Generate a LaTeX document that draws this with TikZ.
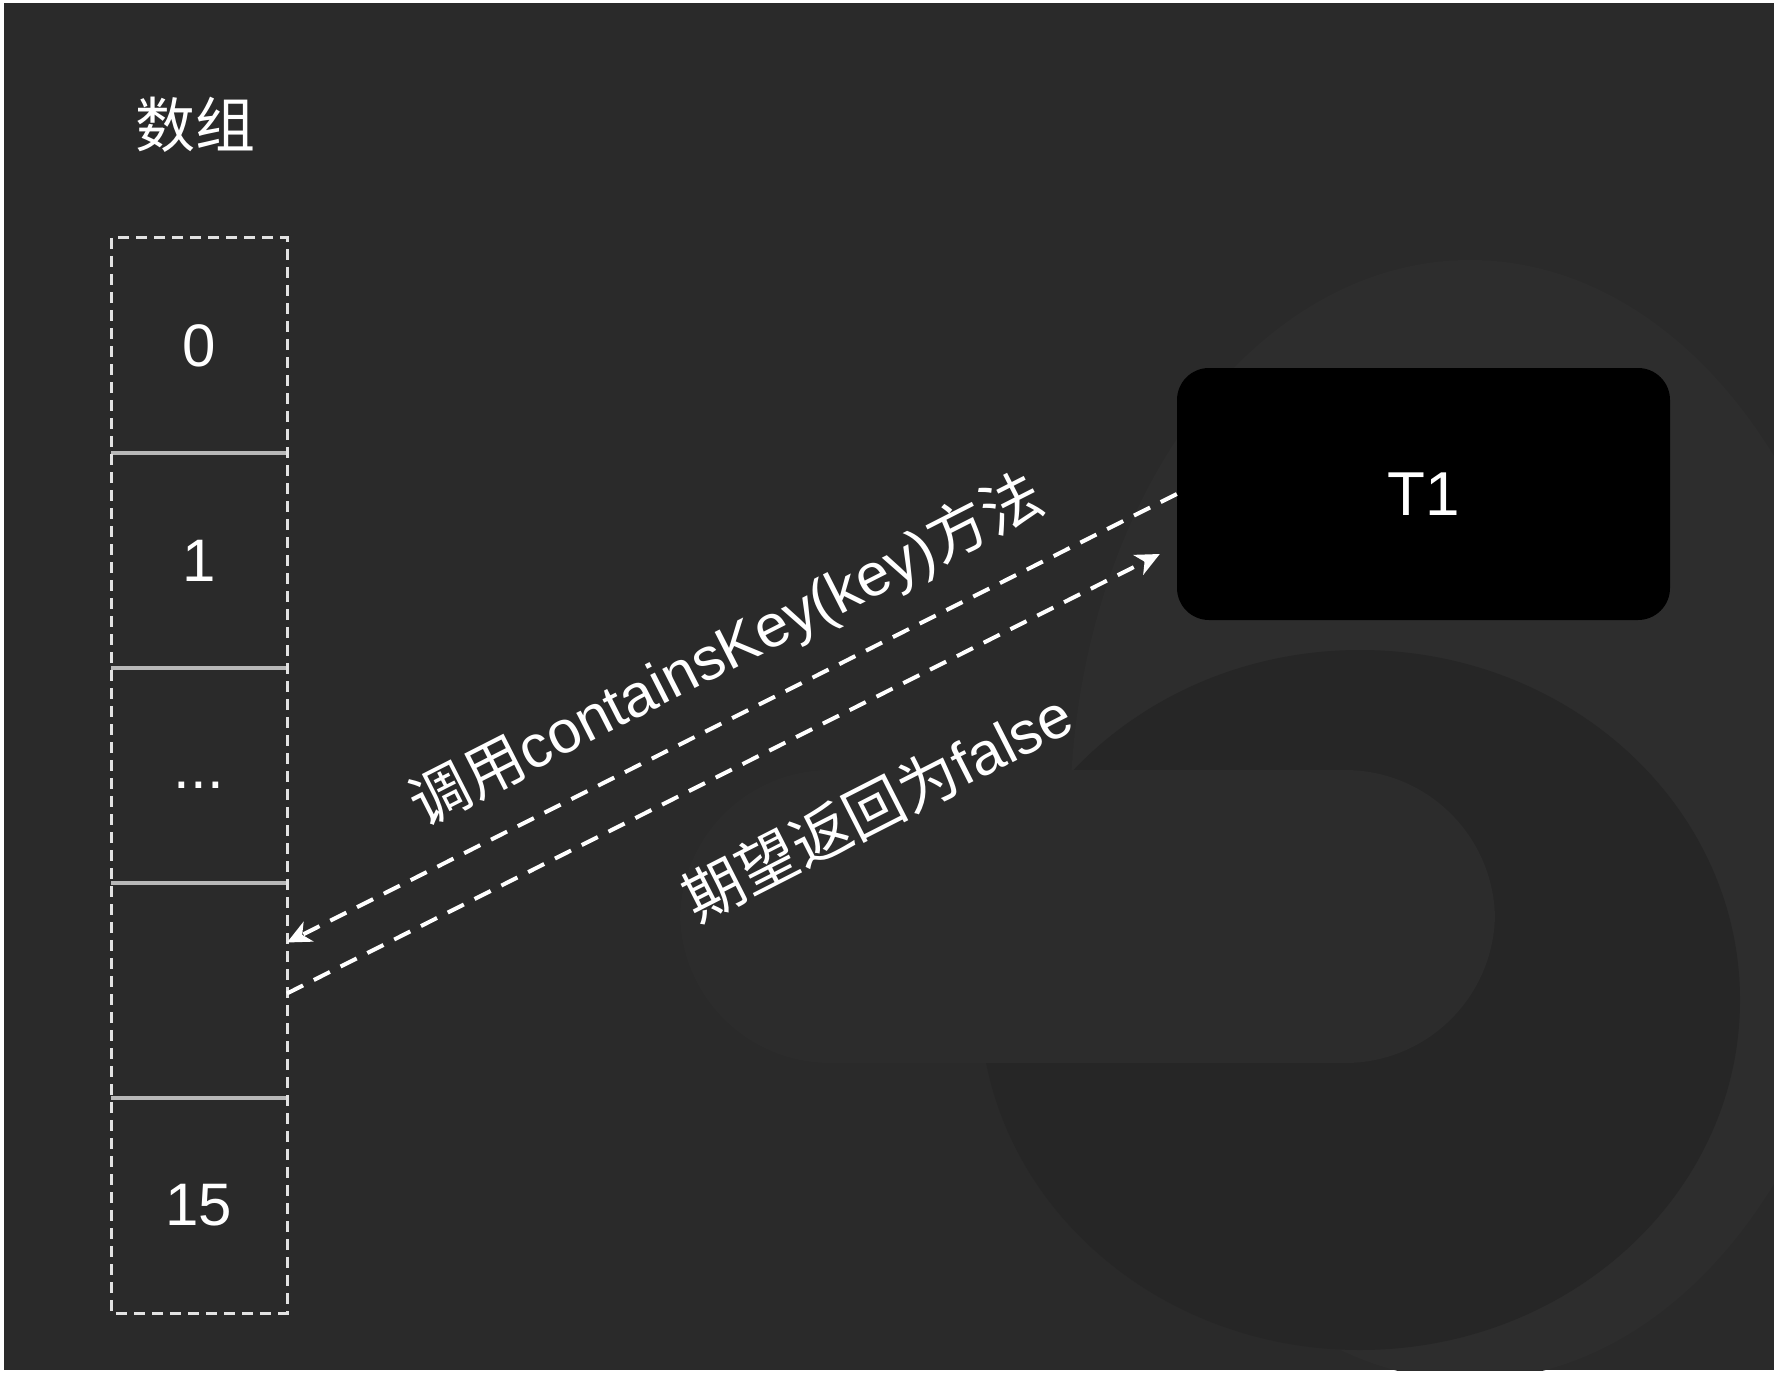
\documentclass[tikz,border=0pt]{standalone}
\usepackage{fontspec}
\setmainfont{Liberation Sans}
\newfontfamily\cjk{Noto Sans CJK SC}
\usetikzlibrary{positioning,arrows.meta}
\definecolor{bgdark}{HTML}{2A2A2A}
\definecolor{bglight}{HTML}{2D2D2D}
\definecolor{bgring}{HTML}{262626}
\definecolor{bgpill}{HTML}{2C2C2C}
\definecolor{sepgray}{HTML}{B8B8B8}
\definecolor{dashgray}{HTML}{E2E2E2}
\tikzset{
  cell/.style={minimum width=176pt, minimum height=215pt, inner sep=0pt, outer sep=0pt, text=white, font=\fontsize{60}{60}\selectfont},
  sepline/.style={draw=sepgray, line width=4pt},
  arrbox/.style={draw=dashgray, line width=3pt, dash pattern=on 11pt off 7pt},
  call/.style={draw=white, line width=4pt, dash pattern=on 18pt off 12pt, -{Stealth[length=24pt,width=22pt,inset=7pt]}},
  lbl/.style={text=white, font=\fontsize{60}{60}\selectfont, rotate=27, inner sep=0pt}
}
\begin{document}
\begin{tikzpicture}[x=1pt,y=-1pt]
  \useasboundingbox (0,0) rectangle (1774,1380);
  \fill[white] (0,0) rectangle (1774,1380);
  \fill[bgdark] (4,3) rectangle (1774,1370);
  \begin{scope}
    \clip (4,3) rectangle (1774,1370);
    \fill[bglight] (1470,820) ellipse [x radius=400, y radius=560];
    \fill[bgring] (1360,1000) ellipse [x radius=380, y radius=350];
    \fill[bgpill, rounded corners=150pt] (680,770) rectangle (1495,1063);
  \end{scope}

  \node[text=white, font=\cjk\fontsize{60}{60}\selectfont] (title) at (195,125) {数组};

  \node[cell] (c0) at (199,345.5) {0};
  \node[cell, below=0pt of c0] (c1) {1};
  \node[cell, below=0pt of c1] (c2) {\raisebox{-26pt}{...}};
  \node[cell, below=0pt of c2] (c3) {};
  \node[cell, below=0pt of c3] (c4) {15};
  \foreach \c in {c0,c1,c2,c3} \draw[sepline] (\c.south west) -- (\c.south east);
  \draw[arrbox] (c0.north west) rectangle (c4.south east);

  \node[fill=black, rounded corners=32pt, minimum width=493pt, minimum height=252pt, text=white, font=\fontsize{62}{62}\selectfont] (t1) at (1423.5,494) {T1};

  \draw[call] (t1.west) -- ([yshift=48pt]c3.east);
  \draw[call] ([yshift=-3pt]c3.east) -- ([xshift=-17pt,yshift=-60pt]t1.west);

  \node[lbl] (ask) at (727,651) {{\cjk 调用}containsKey(key){\cjk 方法}};
  \node[lbl] (reply) at (877,806) {{\cjk 期望返回为}false};
\end{tikzpicture}
\end{document}
